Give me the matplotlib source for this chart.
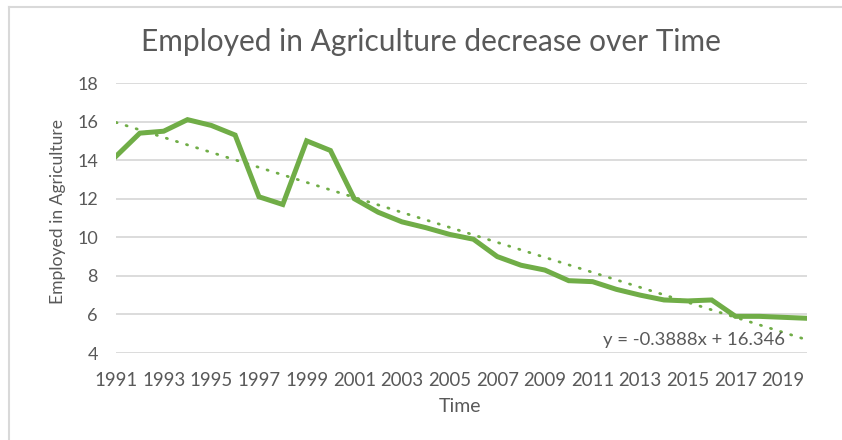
import matplotlib.pyplot as plt
from matplotlib.lines import Line2D
import numpy as np

# Employment in agriculture (% of total), 1991-2020
years = list(range(1991, 2021))
employed = [14.2, 15.4, 15.5, 16.1, 15.8, 15.3, 12.1, 11.7, 15.0, 14.5,
            12.0, 11.3, 10.8, 10.5, 10.15, 9.9, 9.0, 8.55, 8.3, 7.75,
            7.7, 7.3, 7.0, 6.75, 6.7, 6.75, 5.9, 5.9, 5.85, 5.8]
trend_slope = -0.3888
trend_intercept = 16.346
tick_years = years[::2]

green = "#70AD47"
text_grey = "#595959"
plt.rcParams['font.family'] = ['Lato', 'DejaVu Sans']

W, H = 842, 440
fig = plt.figure(figsize=(W / 100, H / 100), dpi=100)
ax = fig.add_axes([116 / W, 1 - 353 / H, (807 - 116) / W, (353 - 83) / H])

idx = np.arange(len(years))
ax.plot(idx, employed, color=green, linewidth=3.6, solid_joinstyle="miter", zorder=3)

# linear trend in category index (x = 1..n)
trend = trend_slope * (idx + 1) + trend_intercept
ax.plot(idx, trend, color=green, linewidth=2.0, linestyle=(0, (0.4, 3.4)),
        dash_capstyle="round", zorder=2)

ax.set_xlim(0, len(years) - 1)
ax.set_ylim(4, 18)
ax.set_yticks(range(4, 19, 2))
ax.set_xticks([years.index(y) for y in tick_years])
ax.set_xticklabels([str(y) for y in tick_years])
ax.grid(axis="y", color="#D9D9D9", linewidth=1.3)
ax.set_axisbelow(True)
for s in ax.spines.values():
    s.set_visible(False)
ax.tick_params(length=0, colors=text_grey, labelsize=13)
ax.tick_params(axis="x", pad=14, labelsize=13.4)
ax.tick_params(axis="y", pad=13)

ax.set_xlabel("Time", color=text_grey, fontsize=14)
ax.set_ylabel("Employed in Agriculture", color=text_grey, fontsize=12.6)
ax.xaxis.set_label_coords((460 - 116) / (807 - 116), -(407 - 353) / (353 - 83))
ax.yaxis.set_label_coords(-(116 - 58) / (807 - 116), (353 - 212) / (353 - 83))
ax.xaxis.label.set_va("center")
ax.yaxis.label.set_va("center")

fig.text(431 / W, 1 - 42 / H, "Employed in Agriculture decrease over Time",
         ha="center", va="center", color=text_grey, fontsize=21.5)
ax.text((785 - 116) / (807 - 116), (353 - 340) / (353 - 83), "y = -0.3888x + 16.346",
        transform=ax.transAxes, ha="right", va="center", color=text_grey, fontsize=13.3)

# chart area frame (top and left edges visible)
fig.add_artist(Line2D([9 / W, 1], [1 - 7 / H, 1 - 7 / H],
                      transform=fig.transFigure, color="#D9D9D9", linewidth=1.5))
fig.add_artist(Line2D([9 / W, 9 / W], [0, 1 - 7 / H],
                      transform=fig.transFigure, color="#D9D9D9", linewidth=1.5))

fig.savefig("out.png", dpi=100)
